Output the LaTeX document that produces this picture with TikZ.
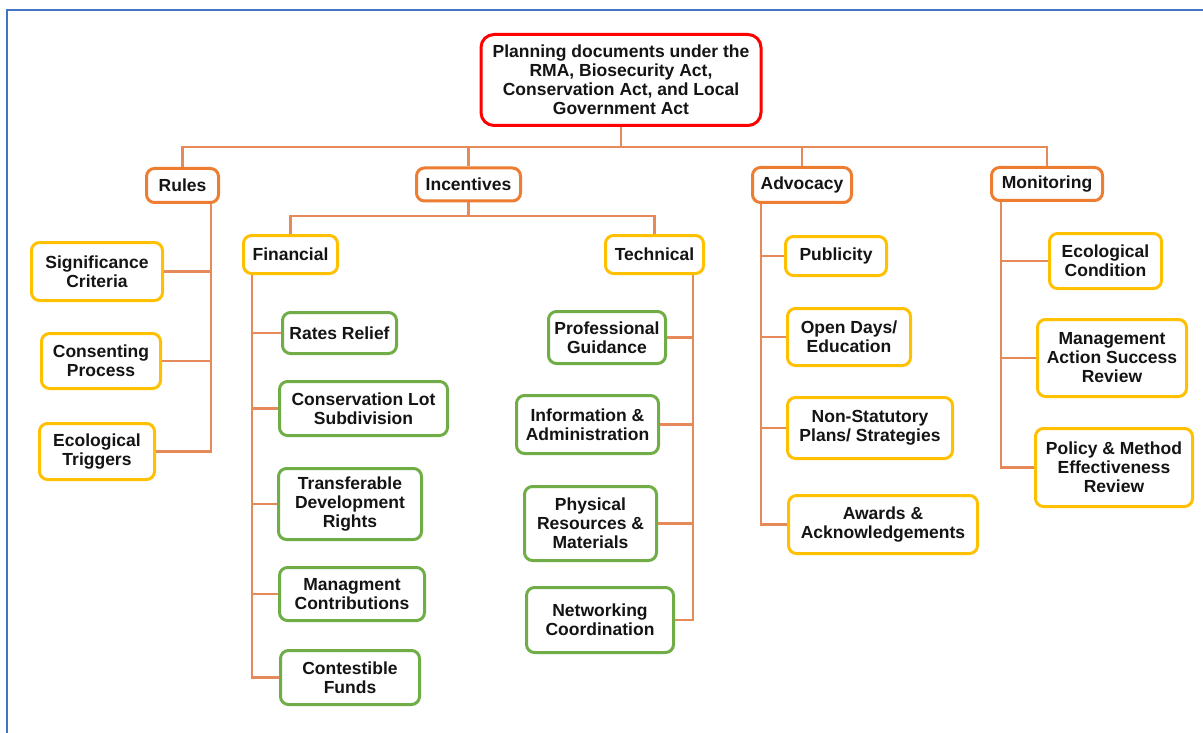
\documentclass[tikz,border=0pt]{standalone}
\usepackage{fontspec}
\setmainfont{Liberation Sans}
\definecolor{framec}{HTML}{4472C4}
\definecolor{rootc}{HTML}{FF0000}
\definecolor{lvla}{HTML}{ED7D31}
\definecolor{lvlb}{HTML}{FFC000}
\definecolor{lvlc}{HTML}{70AD47}
\definecolor{connc}{HTML}{E58A58}
\definecolor{txtc}{HTML}{141414}
\tikzset{
  box/.style={draw, rounded corners=8pt, line width=3pt, fill=white, align=center,
    inner sep=1pt, text=txtc, font=\fontsize{17.5}{19}\selectfont\bfseries},
  rootbox/.style={box, draw=rootc, rounded corners=13pt},
  boxa/.style={box, draw=lvla},
  boxb/.style={box, draw=lvlb},
  boxc/.style={box, draw=lvlc},
  conn/.style={draw=connc, line width=2.2pt},
  sz/.style 2 args={minimum width=#1, minimum height=#2},
}
\begin{document}
\begin{tikzpicture}[x=1pt,y=-1pt]
\useasboundingbox (0,0) rectangle (1203,733);
\draw[framec, line width=2pt] (7,733) -- (7,10) -- (1203,10);

% coordinates of buses and trunks
\coordinate (bus) at (0,147);
\coordinate (subbus) at (0,216);
\coordinate (rv) at (211,0);
\coordinate (fv) at (252,0);
\coordinate (tv) at (693,0);
\coordinate (av) at (761,0);
\coordinate (mv) at (1001,0);

\node[rootbox, sz={280}{91}] (root) at (621,80) {Planning documents under the\\RMA, Biosecurity Act,\\Conservation Act, and Local\\Government Act};
\node[boxa, sz={72}{34}] (rules) at (182.5,185.5) {Rules};
\node[boxa, sz={104}{33}] (incent) at (468.5,184.5) {Incentives};
\node[boxa, sz={99}{35}] (advoc) at (802,185) {Advocacy};
\node[boxa, sz={111}{33}] (monit) at (1047,184) {Monitoring};
\node[boxb, sz={94}{38}] (fin) at (290.5,254.5) {Financial};
\node[boxb, sz={98}{38}] (tech) at (654.5,254.5) {Technical};

\node[boxb, sz={131}{58}] (sig) at (97,271.5) {Significance\\Criteria};
\node[boxb, sz={119}{55}] (cons) at (101,361) {Consenting\\Process};
\node[boxb, sz={115}{56}] (trig) at (97,451.5) {Ecological\\Triggers};

\node[boxc, sz={114}{41}] (rates) at (339.5,333) {Rates Relief};
\node[boxc, sz={168}{54}] (lot) at (363.5,408.5) {Conservation Lot\\Subdivision};
\node[boxc, sz={143}{71}] (tdr) at (350,504) {Transferable\\Development\\Rights};
\node[boxc, sz={145}{53}] (mgc) at (352,594) {Managment\\Contributions};
\node[boxc, sz={139}{54}] (cfund) at (350,677.5) {Contestible\\Funds};

\node[boxc, sz={117}{52}] (prof) at (607,337.5) {Professional\\Guidance};
\node[boxc, sz={142}{58}] (info) at (587.5,424.5) {Information \&\\Administration};
\node[boxc, sz={132}{74}] (phys) at (590.5,523.5) {Physical\\Resources \&\\Materials};
\node[boxc, sz={147}{65}] (netw) at (600,620) {Networking\\Coordination};

\node[boxb, sz={101}{39}] (pub) at (836,256) {Publicity};
\node[boxb, sz={123}{57}] (open) at (849,337) {Open Days/\\Education};
\node[boxb, sz={165}{61}] (nonst) at (870,428) {Non-Statutory\\Plans/ Strategies};
\node[boxb, sz={189}{58}] (award) at (883,524.5) {Awards \&\\Acknowledgements};

\node[boxb, sz={112}{55}] (econd) at (1105.5,261) {Ecological\\Condition};
\node[boxb, sz={149}{77}] (mact) at (1112,358) {Management\\Action Success\\Review};
\node[boxb, sz={157}{78}] (pol) at (1114,467.5) {Policy \& Method\\Effectiveness\\Review};

% top level bus
\draw[conn] (root.south) -- (root.south|-bus);
\draw[conn] (rules.north) |- (monit.north|-bus) -- (monit.north);
\draw[conn] (incent.north) -- (incent.north|-bus);
\draw[conn] (advoc.north) -- (advoc.north|-bus);

% incentives sub bus
\draw[conn] (incent.south) -- (incent.south|-subbus);
\draw[conn] (fin.north) |- (tech.north|-subbus) -- (tech.north);

% rules trunk
\draw[conn] (rv|-rules.south) |- (trig.east);
\draw[conn] (sig.east) -- (sig.east-|rv);
\draw[conn] (cons.east) -- (cons.east-|rv);

% financial trunk
\draw[conn] (fv|-fin.south) |- (cfund.west);
\draw[conn] (rates.west) -- (rates.west-|fv);
\draw[conn] (lot.west) -- (lot.west-|fv);
\draw[conn] (tdr.west) -- (tdr.west-|fv);
\draw[conn] (mgc.west) -- (mgc.west-|fv);

% technical trunk
\draw[conn] (tv|-tech.south) |- (netw.east);
\draw[conn] (prof.east) -- (prof.east-|tv);
\draw[conn] (info.east) -- (info.east-|tv);
\draw[conn] (phys.east) -- (phys.east-|tv);

% advocacy trunk
\draw[conn] (av|-advoc.south) |- (award.west);
\draw[conn] (pub.west) -- (pub.west-|av);
\draw[conn] (open.west) -- (open.west-|av);
\draw[conn] (nonst.west) -- (nonst.west-|av);

% monitoring trunk
\draw[conn] (mv|-monit.south) |- (pol.west);
\draw[conn] (econd.west) -- (econd.west-|mv);
\draw[conn] (mact.west) -- (mact.west-|mv);
\end{tikzpicture}
\end{document}
